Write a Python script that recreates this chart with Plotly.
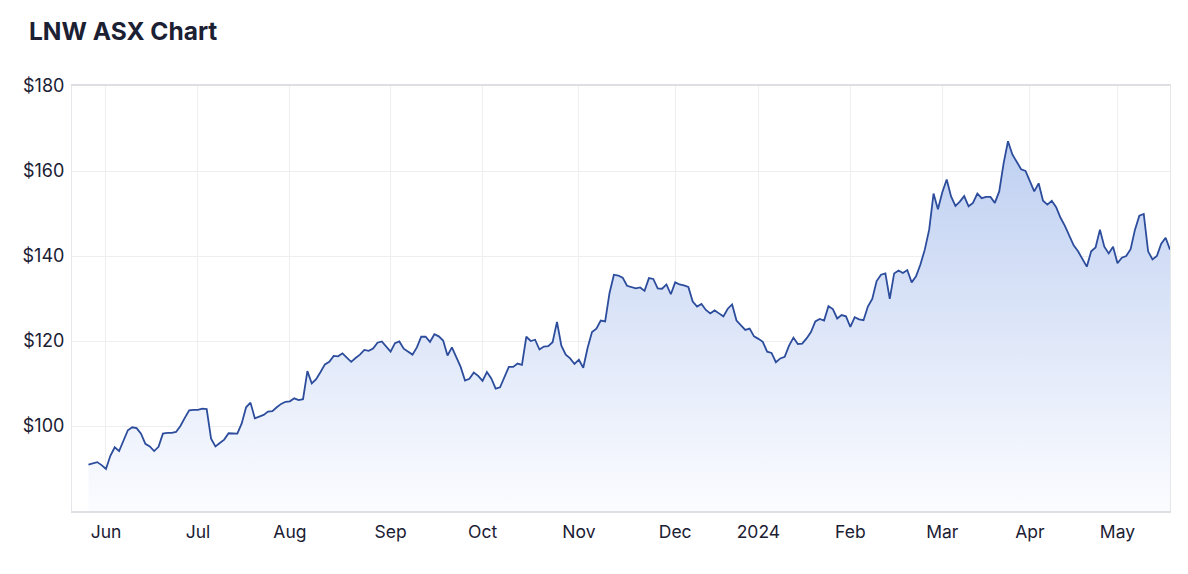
import pandas as pd
import plotly.graph_objects as go

# ASX trading days, 26 May 2023 to 17 May 2024
holidays = ["2023-06-12", "2023-12-25", "2023-12-26", "2024-01-01",
            "2024-01-26", "2024-03-29", "2024-04-01", "2024-04-25"]
days = pd.bdate_range("2023-05-26", "2024-05-17")
days = days[~days.isin(pd.to_datetime(holidays))]
dates = [d.strftime("%Y-%m-%d") for d in days]

# closing price (AUD)
prices = [
    90.9, 91.2, 91.5, 90.8, 89.9, 93.0, 95.0, 94.1, 96.5, 99.0,
    99.7, 99.5, 98.2, 95.8, 95.2, 94.1, 95.1, 98.2, 98.4, 98.4,
    98.6, 100.0, 101.9, 103.7, 103.8, 103.8, 104.1, 104.0, 97.0, 95.2,
    96.0, 96.8, 98.3, 98.3, 98.2, 100.6, 104.4, 105.5, 101.8, 102.2,
    102.6, 103.4, 103.5, 104.4, 105.2, 105.7, 105.8, 106.5, 106.1, 106.3,
    112.9, 110.0, 111.0, 112.7, 114.5, 115.1, 116.5, 116.4, 117.1, 116.1,
    115.1, 116.0, 116.8, 117.9, 117.7, 118.2, 119.6, 119.9, 118.7, 117.5,
    119.5, 119.9, 118.2, 117.5, 116.8, 118.5, 121.0, 121.0, 119.8, 121.6,
    121.1, 120.1, 116.6, 118.5, 116.3, 113.9, 110.7, 111.1, 112.6, 111.8,
    110.6, 112.7, 111.2, 108.8, 109.1, 111.7, 113.9, 113.9, 114.7, 114.4,
    121.0, 120.0, 120.3, 118.0, 118.7, 118.8, 119.7, 124.5, 118.9, 116.8,
    115.9, 114.6, 115.6, 113.7, 118.4, 122.1, 122.9, 124.8, 124.6, 131.3,
    135.6, 135.4, 134.9, 133.0, 132.7, 132.4, 132.6, 131.8, 134.8, 134.6,
    132.4, 132.3, 133.3, 131.0, 133.8, 133.3, 133.1, 132.7, 129.3, 128.1,
    128.7, 127.3, 126.5, 127.2, 126.5, 125.8, 127.6, 128.6, 124.8, 123.7,
    122.6, 122.9, 121.1, 120.5, 119.8, 117.5, 117.2, 115.0, 115.9, 116.3,
    118.9, 120.8, 119.3, 119.4, 120.6, 122.1, 124.6, 125.2, 124.8, 128.2,
    127.5, 125.3, 126.1, 125.8, 123.3, 125.6, 125.1, 124.9, 128.1, 129.9,
    134.1, 135.6, 135.9, 129.9, 135.9, 136.6, 136.0, 136.7, 133.8, 135.2,
    138.0, 141.5, 146.2, 154.7, 151.0, 155.0, 158.0, 154.0, 151.8, 152.8,
    154.1, 151.7, 152.5, 154.7, 153.6, 153.9, 153.9, 152.5, 155.2, 161.8,
    167.0, 163.9, 162.3, 160.4, 160.0, 157.6, 155.2, 157.1, 153.0, 152.1,
    153.0, 151.5, 149.0, 147.1, 144.9, 142.5, 141.1, 139.2, 137.5, 141.1,
    142.0, 146.2, 142.2, 140.6, 142.2, 138.3, 139.6, 140.0, 141.6, 146.2,
    149.5, 149.9, 141.1, 139.2, 140.0, 142.9, 144.3, 141.5,
]

tick_dates = ["2023-06-01", "2023-07-03", "2023-08-01", "2023-09-01",
              "2023-10-02", "2023-11-01", "2023-12-01", "2024-01-02",
              "2024-02-01", "2024-03-01", "2024-04-02", "2024-05-01"]
tick_labels = ["Jun", "Jul", "Aug", "Sep", "Oct", "Nov", "Dec", "2024",
               "Feb", "Mar", "Apr", "May"]
price_ticks = [100, 120, 140, 160, 180]

text_color = "#1b2033"
grid_color = "#eeeeef"

fig = go.Figure()
fig.add_trace(
    go.Scatter(
        x=dates,
        y=prices,
        mode="lines",
        line=dict(color="#2c4c9c", width=1.8),
        fill="tozeroy",
        fillgradient=dict(
            type="vertical",
            colorscale=[[0, "rgb(251,252,255)"], [1, "rgb(190,207,241)"]],
            start=80,
            stop=168,
        ),
        hovertemplate="%{x}<br>$%{y:.2f}<extra></extra>",
    )
)

# the page body has an 8px margin, so the figure is sized to fit inside it
fig.update_layout(
    width=1172,
    height=558,
    margin=dict(l=64, r=10, t=78, b=55),
    paper_bgcolor="white",
    plot_bgcolor="white",
    showlegend=False,
    font=dict(family="Inter, Roboto, sans-serif", size=18, color=text_color),
    title=dict(
        text="<b>LNW ASX Chart</b>",
        font=dict(size=24.5, color=text_color),
        xref="container",
        x=21 / 1172,
        xanchor="left",
        yref="container",
        y=1 - 23 / 558,
        yanchor="middle",
    ),
    xaxis=dict(
        type="category",
        range=[-3.76, len(prices) - 1],
        tickvals=tick_dates,
        ticktext=tick_labels,
        showgrid=True,
        gridcolor=grid_color,
        showline=True,
        linecolor="#dedfe2",
        linewidth=1.5,
        mirror=True,
        ticks="",
        ticklabelstandoff=4,
        tickfont=dict(size=17.5),
    ),
    yaxis=dict(
        range=[80, 180],
        tickvals=price_ticks,
        ticktext=[f"${v}" for v in price_ticks],
        showgrid=True,
        gridcolor=grid_color,
        showline=True,
        linecolor="#e6e7ea",
        mirror=True,
        zeroline=False,
        ticks="",
        ticklabelstandoff=3,
        tickfont=dict(size=18),
    ),
)

fig.write_html("out.html")
